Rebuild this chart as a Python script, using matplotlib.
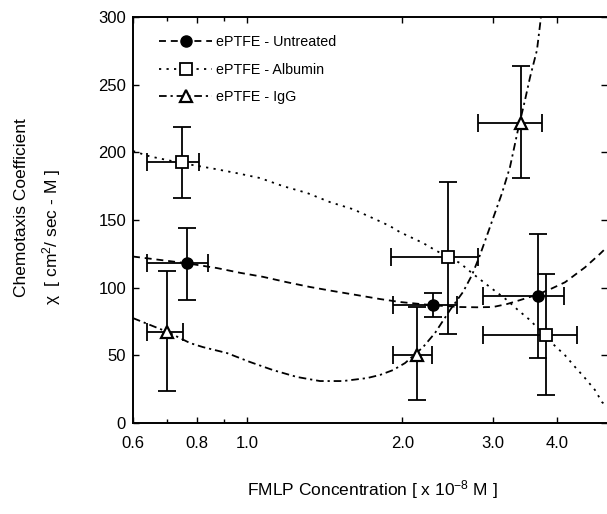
import matplotlib
matplotlib.use("Agg")
import matplotlib.pyplot as plt
from matplotlib.lines import Line2D
from matplotlib.ticker import FixedLocator, NullFormatter

plt.rcParams['font.family'] = ['Liberation Sans', 'DejaVu Sans']
plt.rcParams['mathtext.fontset'] = 'custom'
plt.rcParams['mathtext.rm'] = 'Liberation Sans'
plt.rcParams['mathtext.it'] = 'Liberation Sans:italic'
plt.rcParams['mathtext.default'] = 'regular'
plt.rcParams['lines.scale_dashes'] = False

# ---------------- data ----------------
labels = ["ePTFE - Untreated", "ePTFE - Albumin", "ePTFE - IgG"]

untr_x = [0.764, 2.29, 3.67]
untr_y = [118, 87, 94]
untr_xlo = [0.638, 1.92, 2.87]
untr_xhi = [0.839, 2.56, 4.13]
untr_ylo = [91, 78, 48]
untr_yhi = [144, 96, 140]

alb_x = [0.747, 2.45, 3.81]
alb_y = [192.7, 122.6, 65]
alb_xlo = [0.638, 1.90, 2.87]
alb_xhi = [0.806, 2.80, 4.36]
alb_ylo = [166, 66, 21]
alb_yhi = [219, 178, 110]

igg_x = [0.699, 2.14, 3.40]
igg_y = [67, 50, 222]
igg_xlo = [0.638, 1.92, 2.81]
igg_xhi = [0.751, 2.28, 3.73]
igg_ylo = [24, 17, 181]
igg_yhi = [112, 86, 264]

# fitted curves
untr_cx = [0.600, 0.764, 0.873, 0.968, 1.073, 1.195, 1.324, 1.467, 1.634, 1.810,
           1.980, 2.294, 2.589, 2.793, 3.000, 3.195, 3.385, 3.668, 3.907, 4.141,
           4.527, 4.841, 4.995]
untr_cy = [123, 118, 114.5, 111, 108, 104, 100.5, 97.5, 94.5, 91.6,
           89.4, 87, 85.7, 85.5, 85.7, 87.9, 90.8, 95, 99.5, 104,
           115, 125, 130]

alb_cx = [0.600, 0.611, 0.647, 0.747, 0.858, 0.955, 1.059, 1.174, 1.306, 1.448,
          1.604, 1.786, 1.893, 1.980, 2.195, 2.315, 2.454, 2.589, 2.731, 2.960,
          3.195, 3.354, 3.541, 3.907, 4.141, 4.330, 4.527, 4.733, 4.884, 4.995]
alb_cy = [201, 200, 197, 192, 188, 184.6, 181, 175, 170, 163.2,
          158, 150, 145.5, 141, 133, 127.8, 122.6, 118.2, 110.8, 100.4,
          90.8, 83.5, 76, 59, 50, 41.4, 33.2, 24.4, 15.5, 12]

igg_cx = [0.600, 0.701, 0.774, 0.820, 0.913, 1.012, 1.122, 1.249, 1.384, 1.534,
          1.709, 1.810, 1.919, 2.025, 2.195, 2.315, 2.476, 2.624, 2.731, 2.831,
          2.960, 3.124, 3.237, 3.354, 3.462, 3.541, 3.652, 3.702, 3.730]
igg_cy = [77.5, 67.2, 59.1, 56.1, 51.7, 45.1, 39.1, 34, 31, 31,
          33.2, 35.5, 39.1, 44.3, 56.1, 66.5, 83.5, 96.8, 109.3, 124.1,
          144.8, 169.9, 189.1, 216.4, 238.6, 255.5, 275.5, 294, 305]

xtick_vals = [0.6, 0.8, 1.0, 2.0, 3.0, 4.0]
xtick_labels = ["0.6", "0.8", "1.0", "2.0", "3.0", "4.0"]
ytick_vals = [0, 50, 100, 150, 200, 250, 300]

# ---------------- figure ----------------
fig = plt.figure(figsize=(6.07, 5.14), dpi=100)
ax = fig.add_axes([133 / 607, 91 / 514, 474 / 607, 406 / 514])
ax.set_xscale('log')
ax.set_xlim(0.6, 4.995)
ax.set_ylim(0, 300)

dash_u = (5, 3.5)
dash_a = (1.6, 3.8)
dash_i = (5.5, 2.8, 1.6, 2.8)
clw = 1.3

ax.plot(untr_cx, untr_cy, color='black', lw=clw, dashes=dash_u, zorder=2)
ax.plot(alb_cx, alb_cy, color='black', lw=clw, dashes=dash_a, zorder=2)
ax.plot(igg_cx, igg_cy, color='black', lw=clw, dashes=dash_i, zorder=2, clip_on=True)

def errs(v, lo, hi):
    return [[a - b for a, b in zip(v, lo)], [c - a for a, c in zip(v, hi)]]

ekw = dict(fmt='none', ecolor='black', elinewidth=1.3, capsize=6.5, capthick=1.3, zorder=3)
ax.errorbar(untr_x, untr_y, xerr=errs(untr_x, untr_xlo, untr_xhi),
            yerr=errs(untr_y, untr_ylo, untr_yhi), **ekw)
ax.errorbar(alb_x, alb_y, xerr=errs(alb_x, alb_xlo, alb_xhi),
            yerr=errs(alb_y, alb_ylo, alb_yhi), **ekw)
ax.errorbar(igg_x, igg_y, xerr=errs(igg_x, igg_xlo, igg_xhi),
            yerr=errs(igg_y, igg_ylo, igg_yhi), **ekw)

ax.plot(untr_x, untr_y, 'o', ms=8, mfc='black', mec='black', zorder=4)
ax.plot(alb_x, alb_y, 's', ms=8, mfc='white', mec='black', mew=1.3, zorder=4)
ax.plot(igg_x, igg_y, '^', ms=8.5, mfc='white', mec='black', mew=1.6, zorder=4)

# axes styling
for s in ['left', 'bottom', 'top']:
    ax.spines[s].set_linewidth(1.4)
ax.spines['right'].set_visible(False)

ax.xaxis.set_major_locator(FixedLocator(xtick_vals))
ax.set_xticklabels(xtick_labels)
ax.xaxis.set_minor_locator(FixedLocator([0.7, 0.9]))
ax.xaxis.set_minor_formatter(NullFormatter())
ax.set_yticks(ytick_vals)
ax.tick_params(axis='both', which='major', direction='in', length=4, width=1,
               top=True, right=True, labelsize=12)
ax.tick_params(axis='both', which='minor', direction='in', length=3, width=1,
               top=True, right=True)
ax.tick_params(axis='x', which='major', pad=9)
ax.tick_params(axis='y', which='major', pad=5)

# legend
handles = [
    Line2D([], [], color='black', lw=clw, dashes=dash_u, marker='o', ms=8,
           mfc='black', mec='black'),
    Line2D([], [], color='black', lw=clw, dashes=dash_a, marker='s', ms=8,
           mfc='white', mec='black', mew=1.3),
    Line2D([], [], color='black', lw=clw, dashes=dash_i, marker='^', ms=8.5,
           mfc='white', mec='black', mew=1.6),
]
ax.legend(handles, labels, loc='upper left', bbox_to_anchor=(0.055, 0.955),
          frameon=False, fontsize=10.3, handlelength=3.7, handletextpad=0.3,
          labelspacing=0.95, borderpad=0, borderaxespad=0)

# axis labels
fig.text(372 / 607, 1 - 490 / 514, r"FMLP Concentration [ x 10$^{-8}$ M ]",
         ha='center', va='center', fontsize=12.5)
fig.text(22 / 607, 1 - 208 / 514, "Chemotaxis Coefficient", rotation=90,
         ha='center', va='center', fontsize=12.5)
fig.text(52 / 607, 1 - 237 / 514, r"χ  [ cm$^{2}$/ sec - M ]", rotation=90,
         ha='center', va='center', fontsize=12.5)

fig.savefig("out.png", dpi=100)
